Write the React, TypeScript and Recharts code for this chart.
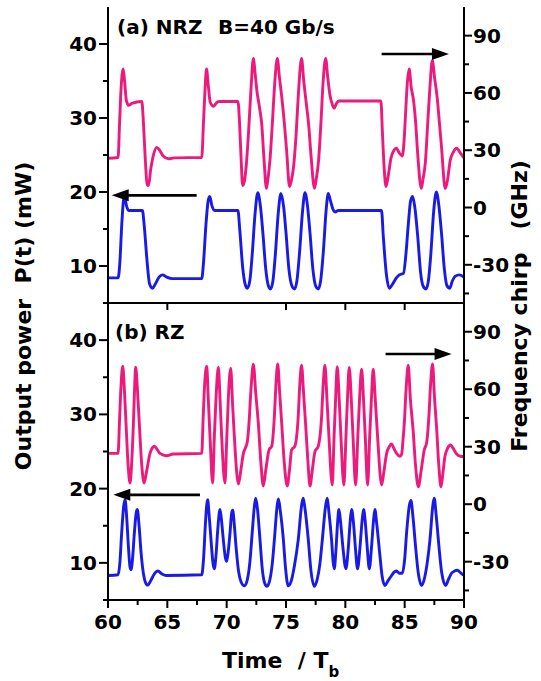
import React from 'react';
import { LineChart, Line, XAxis, YAxis, ReferenceLine } from 'recharts';

type Pt = [number, number];

const FONT = "'DejaVu Sans', Verdana, sans-serif";
const BLUE = '#1a1ae6';
const PINK = '#ec1a7c';

const timeTicks = [60, 62.5, 65, 67.5, 70, 72.5, 75, 77.5, 80, 82.5, 85, 87.5, 90];
const timeLabels = [60, 65, 70, 75, 80, 85, 90];
const topTicksA = [80, 85];
const boundaryTicks = [65, 75, 80, 85];
const powerTicks = [5, 10, 15, 20, 25, 30, 35, 40];
const powerLabels = [10, 20, 30, 40];
const chirpTicks = [-45, -30, -15, 0, 15, 30, 45, 60, 75, 90];
const chirpLabels = [-30, 0, 30, 60, 90];
const powerDomain = [5, 45];
const chirpDomain = [-50, 105];

// Panel (a) NRZ: output power (mW) vs time
const nrzPower: Pt[] = [
  [60.0, 8.4], [60.85, 8.4], [61.0, 10.5], [61.15, 15.3], [61.3, 18.8], [61.4, 19.4], [61.55, 18.2], [61.75, 17.5],
  [62.9, 17.5], [63.05, 15.5], [63.3, 10.5], [63.5, 7.6], [63.75, 7.0], [64.0, 7.6], [64.3, 8.5], [64.6, 8.8],
  [64.95, 8.5], [65.4, 8.3], [67.9, 8.3], [68.05, 10.5], [68.25, 15.5], [68.45, 18.9], [68.58, 19.4], [68.75, 18.2],
  [69.0, 17.5], [70.95, 17.5], [71.1, 15.0], [71.35, 9.8], [71.55, 7.6], [71.75, 7.0], [71.95, 8.0], [72.15, 11.5],
  [72.4, 17.2], [72.62, 19.9], [72.85, 18.0], [73.05, 14.5], [73.3, 9.5], [73.5, 7.4], [73.7, 6.9], [73.9, 8.0],
  [74.1, 11.5], [74.35, 17.2], [74.57, 19.8], [74.8, 18.0], [75.0, 14.5], [75.25, 9.5], [75.5, 7.3], [75.72, 6.9],
  [75.92, 8.0], [76.15, 12.0], [76.4, 17.5], [76.6, 19.9], [76.82, 18.0], [77.02, 14.5], [77.27, 9.5], [77.5, 7.3],
  [77.72, 6.9], [77.92, 8.0], [78.15, 12.0], [78.38, 17.5], [78.56, 19.8], [78.75, 18.8], [78.95, 17.7], [79.15, 17.3],
  [79.4, 17.5], [83.05, 17.5], [83.2, 14.0], [83.45, 9.0], [83.7, 7.0], [84.0, 7.6], [84.3, 8.4], [84.55, 8.8],
  [84.9, 9.0], [85.1, 11.5], [85.3, 15.5], [85.5, 18.8], [85.67, 19.4], [85.85, 18.0], [86.1, 14.0], [86.35, 9.0],
  [86.55, 7.3], [86.8, 6.9], [87.0, 8.0], [87.2, 11.5], [87.45, 17.5], [87.67, 20.0], [87.88, 18.2], [88.1, 14.5],
  [88.35, 9.5], [88.55, 7.4], [88.8, 7.0], [89.0, 7.9], [89.25, 8.6], [89.6, 8.8], [90.0, 8.5],
];

// Panel (a) NRZ: frequency chirp (GHz) vs time
const nrzChirp: Pt[] = [
  [60.0, 25.8], [60.85, 26.2], [60.98, 45], [61.1, 62], [61.28, 72.5], [61.4, 66], [61.55, 56], [61.75, 53.5],
  [62.0, 54.5], [62.85, 55.5], [62.98, 45], [63.12, 28], [63.3, 12], [63.42, 11.5], [63.6, 20], [63.85, 28],
  [64.1, 31.5], [64.35, 30], [64.65, 27], [65.1, 25.5], [65.6, 26], [67.9, 26.2], [68.05, 45], [68.18, 62],
  [68.3, 72.5], [68.45, 64], [68.62, 55], [68.9, 53], [69.1, 54.5], [69.35, 55.5], [70.95, 55.5], [71.08, 45],
  [71.2, 28], [71.35, 11.5], [71.5, 14], [71.65, 22], [71.85, 40], [72.05, 62], [72.25, 78], [72.4, 70],
  [72.55, 61], [72.75, 53], [72.95, 44], [73.15, 25], [73.35, 10], [73.5, 16], [73.65, 25], [73.85, 44],
  [74.05, 65], [74.27, 78], [74.45, 68], [74.64, 58], [74.85, 45], [75.05, 30], [75.3, 11], [75.45, 14],
  [75.65, 22], [75.85, 38], [76.05, 60], [76.31, 78], [76.5, 66], [76.7, 55], [76.9, 44], [77.1, 28],
  [77.4, 10], [77.55, 15], [77.75, 25], [77.95, 45], [78.12, 65], [78.34, 78], [78.52, 68], [78.7, 59],
  [78.9, 54], [79.05, 52], [79.25, 54.5], [79.45, 55.8], [83.0, 55.8], [83.12, 40], [83.28, 20], [83.42, 11],
  [83.6, 16], [83.85, 26], [84.1, 30], [84.3, 31], [84.55, 28.5], [84.8, 27], [84.95, 35], [85.1, 52],
  [85.22, 65], [85.38, 72.5], [85.55, 63], [85.75, 56], [85.92, 45], [86.1, 28], [86.4, 10], [86.55, 15],
  [86.75, 24], [86.95, 45], [87.12, 62], [87.33, 77], [87.52, 68], [87.75, 57], [87.92, 45], [88.1, 32],
  [88.42, 10], [88.6, 14], [88.85, 25], [89.1, 29], [89.37, 31], [89.7, 28.5], [90.0, 26],
];

// Panel (b) RZ: output power (mW) vs time
const rzPower: Pt[] = [
  [60.0, 8.3], [60.85, 8.4], [61.0, 10.0], [61.15, 14.0], [61.32, 17.6], [61.44, 18.5], [61.58, 16.0], [61.72, 12.2],
  [61.86, 9.4], [61.95, 9.1], [62.08, 10.8], [62.22, 14.0], [62.38, 16.8], [62.47, 17.2], [62.62, 15.0], [62.78, 11.5],
  [62.98, 8.6], [63.15, 7.4], [63.35, 7.0], [63.6, 7.6], [63.9, 8.5], [64.2, 8.9], [64.55, 8.5], [64.9, 8.3],
  [67.9, 8.4], [68.05, 10.5], [68.2, 15.0], [68.32, 17.8], [68.4, 18.5], [68.52, 16.5], [68.68, 13.1], [68.85, 9.9],
  [68.96, 9.2], [69.1, 11.0], [69.25, 14.5], [69.38, 16.8], [69.44, 17.2], [69.58, 15.5], [69.72, 13.1], [69.88, 10.8],
  [70.0, 10.2], [70.13, 11.5], [70.28, 14.0], [70.42, 16.7], [70.51, 17.1], [70.65, 15.0], [70.8, 12.0], [71.0, 8.9],
  [71.2, 7.5], [71.5, 6.9], [71.75, 7.8], [71.95, 10.0], [72.15, 14.0], [72.35, 17.8], [72.45, 18.7], [72.6, 17.2],
  [72.81, 13.1], [73.0, 9.2], [73.2, 7.3], [73.4, 6.85], [73.65, 7.8], [73.85, 10.0], [74.02, 13.1], [74.25, 17.6],
  [74.36, 18.6], [74.52, 17.0], [74.78, 13.1], [74.95, 9.5], [75.19, 6.9], [75.45, 7.6], [75.7, 9.5], [76.03, 13.1],
  [76.32, 17.8], [76.45, 18.7], [76.6, 17.3], [76.88, 13.1], [77.08, 9.3], [77.38, 6.85], [77.62, 7.7], [77.85, 9.8],
  [78.06, 13.1], [78.35, 17.8], [78.48, 18.7], [78.62, 16.8], [78.84, 13.1], [78.98, 10.0], [79.07, 9.2], [79.2, 11.5],
  [79.35, 15.5], [79.46, 17.2], [79.6, 15.5], [79.8, 12.0], [80.05, 9.2], [80.25, 12.0], [80.42, 15.8], [80.53, 17.2],
  [80.68, 15.5], [80.85, 12.0], [81.03, 9.2], [81.23, 12.0], [81.42, 15.8], [81.54, 17.2], [81.68, 15.5], [81.85, 12.0],
  [82.02, 9.2], [82.2, 12.0], [82.38, 15.8], [82.49, 17.2], [82.65, 15.2], [82.92, 10.9], [83.1, 8.2], [83.34, 6.95],
  [83.6, 7.6], [83.9, 8.3], [84.15, 8.8], [84.32, 8.9], [84.55, 8.6], [84.8, 8.6], [85.0, 10.5], [85.16, 14.0],
  [85.4, 17.8], [85.53, 18.4], [85.7, 16.2], [85.92, 12.2], [86.15, 8.6], [86.43, 6.95], [86.68, 8.0], [86.9, 10.0],
  [87.13, 13.1], [87.38, 17.8], [87.49, 18.7], [87.65, 16.5], [87.89, 12.2], [88.12, 8.7], [88.45, 6.95], [88.7, 7.8],
  [88.95, 8.6], [89.2, 8.9], [89.45, 9.0], [89.7, 8.7], [90.0, 8.3],
];

// Panel (b) RZ: frequency chirp (GHz) vs time
const rzChirp: Pt[] = [
  [60.0, 26.5], [60.85, 26.5], [60.98, 45], [61.1, 62], [61.24, 72], [61.38, 60], [61.52, 42], [61.7, 20],
  [61.86, 11], [62.0, 22], [62.14, 42], [62.25, 62], [62.33, 71.5], [62.48, 60], [62.64, 42], [62.85, 20],
  [63.04, 11], [63.25, 17], [63.54, 26.5], [63.75, 29.5], [63.91, 30.3], [64.15, 28.5], [64.38, 26.5], [64.95, 25.3],
  [65.5, 26.2], [67.9, 26.5], [68.02, 45], [68.14, 62], [68.32, 72], [68.45, 55], [68.6, 35], [68.82, 11],
  [68.96, 35], [69.1, 55], [69.3, 71.5], [69.44, 55], [69.58, 35], [69.86, 11], [70.0, 33], [70.14, 55],
  [70.34, 71], [70.5, 52], [70.65, 35], [70.99, 10.5], [71.2, 18], [71.41, 26.5], [71.62, 30], [71.75, 33],
  [71.88, 42], [72.05, 60], [72.25, 73], [72.45, 58], [72.67, 42], [72.88, 22], [73.09, 9.5], [73.3, 18],
  [73.57, 28.3], [73.8, 30.3], [74.02, 45.7], [74.15, 62], [74.3, 73.2], [74.47, 58], [74.64, 42], [74.85, 22],
  [75.1, 9.5], [75.3, 18], [75.47, 28.3], [75.75, 30.3], [76.03, 45.7], [76.16, 62], [76.31, 72.6], [76.48, 58],
  [76.65, 42], [76.85, 22], [77.02, 9.5], [77.22, 18], [77.44, 27.4], [77.72, 30.3], [78.0, 45.7], [78.13, 62],
  [78.28, 72.6], [78.45, 55], [78.62, 35], [78.9, 10], [79.05, 35], [79.18, 55], [79.32, 71.8], [79.48, 55],
  [79.63, 35], [79.88, 10], [80.05, 35], [80.18, 55], [80.33, 71.4], [80.5, 55], [80.65, 35], [80.87, 10],
  [81.05, 35], [81.2, 55], [81.37, 70.4], [81.53, 55], [81.68, 35], [81.88, 10], [82.05, 35], [82.2, 55],
  [82.35, 70.4], [82.52, 55], [82.72, 35], [83.06, 10], [83.25, 17], [83.48, 26.5], [83.7, 30], [83.9, 31.4],
  [84.1, 29], [84.32, 26.5], [84.6, 25], [84.74, 26], [84.88, 35], [84.97, 42.2], [85.12, 60], [85.3, 72.6],
  [85.48, 55], [85.72, 38], [85.92, 20], [86.15, 9.1], [86.4, 18], [86.65, 28.3], [86.85, 32], [87.04, 45.7],
  [87.18, 62], [87.35, 73.2], [87.52, 55], [87.69, 40], [87.88, 20], [88.06, 9.1], [88.22, 16], [88.39, 24.8],
  [88.6, 29], [88.87, 30.9], [89.1, 29], [89.38, 26.2], [89.7, 25], [90.0, 24.8],
];

// Arrow annotations: [tail time, head time, power level]
const arrowsA: [number, number, number][] = [
  [67.47, 60.31, 19.55],
  [83.06, 88.73, 38.65],
];
const arrowsB: [number, number, number][] = [
  [67.75, 60.45, 19.16],
  [83.39, 88.95, 38.14],
];

const rows = (pts: Pt[]) => pts.map(([t, v]) => ({ t, v }));

const textStyle = { fontFamily: FONT, fontWeight: 'bold' as const, fill: '#000' };

const LeftTick = (props: any) => {
  const { x, y, payload } = props;
  const v = payload.value;
  const major = powerLabels.includes(v);
  return (
    <g>
      <line x1={x} x2={x - (major ? 9 : 5)} y1={y} y2={y} stroke="#000" strokeWidth={2} />
      {major && (
        <text x={x - 11} y={y} dy={7} textAnchor="end" fontSize={20} {...textStyle}>
          {v}
        </text>
      )}
    </g>
  );
};

const RightTick = (props: any) => {
  const { x, y, payload } = props;
  const v = payload.value;
  const major = chirpLabels.includes(v);
  return (
    <g>
      <line x1={x} x2={x + (major ? 8 : 5)} y1={y} y2={y} stroke="#000" strokeWidth={2} />
      {major && (
        <text x={x + 9} y={y} dy={7} textAnchor="start" fontSize={20} {...textStyle}>
          {v}
        </text>
      )}
    </g>
  );
};

const BottomTickB = (props: any) => {
  const { x, y, payload } = props;
  const v = payload.value;
  const major = timeLabels.includes(v);
  return (
    <g>
      <line x1={x} x2={x} y1={y} y2={y + (major ? 8 : 5)} stroke="#000" strokeWidth={2} />
      {major && (
        <text x={x} y={y} dy={29} textAnchor="middle" fontSize={20} {...textStyle}>
          {v}
        </text>
      )}
    </g>
  );
};

const BottomTickA = (props: any) => {
  const { x, y } = props;
  return <line x1={x} x2={x} y1={y} y2={y + 7} stroke="#000" strokeWidth={2} />;
};

const TopTickA = (props: any) => {
  const { x, y } = props;
  return <line x1={x} x2={x} y1={y} y2={y + 7} stroke="#000" strokeWidth={2} />;
};

const ArrowShape = (p: any) => {
  const { x1, y1, x2, y2 } = p;
  const dir = Math.sign(x2 - x1);
  const hl = 17;
  const hw = 6;
  return (
    <g>
      <line x1={x1} y1={y1} x2={x2 - dir * hl * 0.7} y2={y2} stroke="#000" strokeWidth={2.6} />
      <polygon points={`${x2},${y2} ${x2 - dir * hl},${y2 - hw} ${x2 - dir * hl},${y2 + hw}`} fill="#000" />
    </g>
  );
};

const axisLine = { stroke: '#000', strokeWidth: 2 };

const Panel = ({
  power,
  chirp,
  arrows,
  height,
  bottomHeight,
  labelled,
}: {
  power: Pt[];
  chirp: Pt[];
  arrows: [number, number, number][];
  height: number;
  bottomHeight: number;
  labelled: boolean;
}) => (
  <LineChart width={541} height={height} margin={{ top: 7, right: 0, bottom: 0, left: 0 }}>
    <XAxis
      dataKey="t"
      type="number"
      domain={[60, 90]}
      allowDataOverflow
      ticks={labelled ? timeTicks : boundaryTicks}
      interval={0}
      height={bottomHeight}
      axisLine={axisLine}
      tickLine={false}
      tickSize={0}
      tickMargin={0}
      tick={labelled ? <BottomTickB /> : <BottomTickA />}
    />
    <XAxis
      xAxisId="top"
      orientation="top"
      dataKey="t"
      type="number"
      domain={[60, 90]}
      allowDataOverflow
      ticks={labelled ? [] : topTicksA}
      interval={0}
      height={0}
      axisLine={axisLine}
      tickLine={false}
      tickSize={0}
      tickMargin={0}
      tick={labelled ? false : <TopTickA />}
    />
    <YAxis
      yAxisId="L"
      orientation="left"
      type="number"
      domain={powerDomain}
      allowDataOverflow
      ticks={powerTicks}
      interval={0}
      width={108}
      axisLine={axisLine}
      tickLine={false}
      tickSize={0}
      tickMargin={0}
      tick={<LeftTick />}
    />
    <YAxis
      yAxisId="R"
      orientation="right"
      type="number"
      domain={chirpDomain}
      allowDataOverflow
      ticks={chirpTicks}
      interval={0}
      width={77}
      axisLine={axisLine}
      tickLine={false}
      tickSize={0}
      tickMargin={0}
      tick={<RightTick />}
    />
    <Line
      yAxisId="R"
      data={rows(chirp)}
      dataKey="v"
      type="monotone"
      stroke={PINK}
      strokeWidth={2.9}
      dot={false}
      activeDot={false}
      isAnimationActive={false}
    />
    <Line
      yAxisId="L"
      data={rows(power)}
      dataKey="v"
      type="monotone"
      stroke={BLUE}
      strokeWidth={2.9}
      dot={false}
      activeDot={false}
      isAnimationActive={false}
    />
    {arrows.map(([t0, t1, p], i) => (
      <ReferenceLine
        key={i}
        yAxisId="L"
        segment={[
          { x: t0, y: p },
          { x: t1, y: p },
        ]}
        shape={ArrowShape}
      />
    ))}
  </LineChart>
);

export default function App() {
  return (
    <div style={{ position: 'absolute', left: 0, top: 0, width: 541, height: 681, background: '#fff', overflow: 'hidden' }}>
      <div style={{ position: 'absolute', left: 0, top: 0 }}>
        <Panel power={nrzPower} chirp={nrzChirp} arrows={arrowsA} height={310} bottomHeight={7} labelled={false} />
      </div>
      <div style={{ position: 'absolute', left: 0, top: 296 }}>
        <Panel power={rzPower} chirp={rzChirp} arrows={arrowsB} height={385} bottomHeight={81} labelled />
      </div>
      <svg width={541} height={681} style={{ position: 'absolute', left: 0, top: 0, pointerEvents: 'none' }}>
        <text x={117} y={34} fontSize={20} {...textStyle}>
          (a) NRZ
        </text>
        <text x={218} y={34} fontSize={20} {...textStyle}>
          B=40 Gb/s
        </text>
        <text x={115} y={339} fontSize={20} {...textStyle}>
          (b) RZ
        </text>
        <text transform="translate(31,316) rotate(-90)" textAnchor="middle" fontSize={22} {...textStyle}>
          Output power{'\u00a0\u00a0'}P(t) (mW)
        </text>
        <text transform="translate(527,306) rotate(-90)" textAnchor="middle" fontSize={22} {...textStyle}>
          Frequency chirp{'\u00a0\u00a0\u00a0'}(GHz)
        </text>
        <text x={222} y={668} fontSize={22} {...textStyle}>
          Time{'\u00a0\u00a0'}/ T
          <tspan dy={9} fontSize={15}>
            b
          </tspan>
        </text>
      </svg>
    </div>
  );
}
